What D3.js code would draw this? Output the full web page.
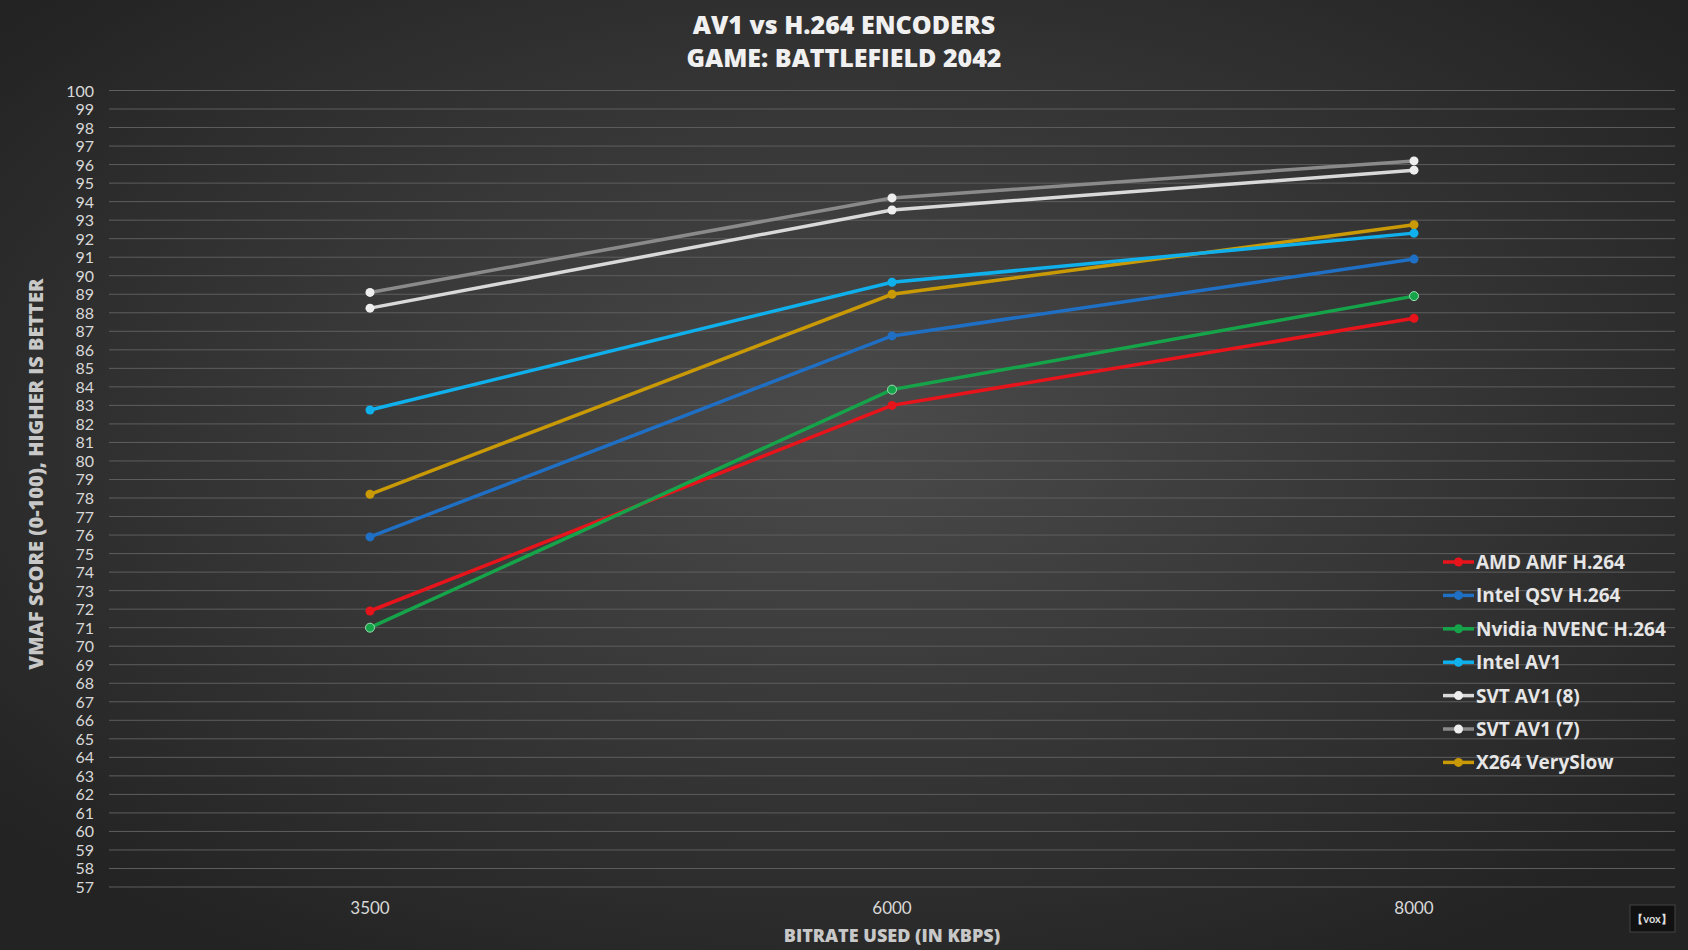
<!DOCTYPE html><html><head><meta charset="utf-8"><script src="https://cdn.jsdelivr.net/npm/d3@7"></script>
<style>body{margin:0;background:#2a2a2a}svg{display:block}</style></head><body><svg id="c" width="1688" height="950"></svg>
<script>
const categories=["3500","6000","8000"];
const seriesNames=["AMD AMF H.264","Intel QSV H.264","Nvidia NVENC H.264","Intel AV1","SVT AV1 (8)","SVT AV1 (7)","X264 VerySlow"];
const colors=["#e8141b","#1f6fc4","#16a44a","#0fb0ec","#d9d9d9","#8a8a8a","#c99a06"];
const amd=[71.9,83.0,87.7];
const qsv=[75.9,86.75,90.9];
const nvenc=[71.0,83.85,88.9];
const intelAv1=[82.75,89.65,92.3];
const svt8=[88.25,93.55,95.7];
const svt7=[89.1,94.2,96.2];
const x264=[78.2,89.0,92.75];
const values=[amd,qsv,nvenc,intelAv1,svt8,svt7,x264];
const yTicks=d3.range(57,101);
const svg=d3.select("#c");
const defs=svg.append("defs");
const g=defs.append("radialGradient").attr("id","bg").attr("cx","50%").attr("cy","45%").attr("r","65%");
g.append("stop").attr("offset","0%").attr("stop-color","#4b4b4b");
g.append("stop").attr("offset","100%").attr("stop-color","#232323");
svg.append("rect").attr("width",1688).attr("height",950).attr("fill","url(#bg)");
const x=d3.scaleBand().domain(categories).range([109,1675]);
const y=d3.scaleLinear().domain([57,100]).range([887,90.5]);
const F="Lato, 'Open Sans', sans-serif";
const FB="'Open Sans', sans-serif";
const dot=s=>(s==4||s==5)?"#eeeeee":colors[s];
svg.append("g").selectAll("line").data(yTicks).join("line").attr("x1",109).attr("x2",1675)
 .attr("y1",d=>y(d)).attr("y2",d=>y(d)).attr("stroke","#5e5e5e").attr("stroke-width",1);
svg.append("g").selectAll("text").data(yTicks).join("text").attr("x",94).attr("y",d=>y(d)+6)
 .attr("text-anchor","end").attr("fill","#d8d8d8").attr("font-family",F).attr("font-size",16).text(d=>d);
svg.append("g").selectAll("text").data(categories).join("text").attr("x",d=>x(d)+x.bandwidth()/2).attr("y",914)
 .attr("text-anchor","middle").attr("fill","#d8d8d8").attr("font-family",F).attr("font-size",17).text(d=>d);
const line=d3.line().x((d,i)=>x(categories[i])+x.bandwidth()/2).y(d=>y(d));
const order=[5,4,6,3,1,0,2];
order.forEach(s=>{
 svg.append("path").attr("d",line(values[s])).attr("fill","none").attr("stroke",colors[s]).attr("stroke-width",3.5);
 svg.append("g").selectAll("circle").data(values[s]).join("circle").attr("cx",(d,i)=>x(categories[i])+x.bandwidth()/2)
  .attr("cy",d=>y(d)).attr("r",4.5).attr("fill",dot(s)).attr("stroke",(s==2)?"#9be0b0":"none");
});
svg.append("text").attr("x",844).attr("y",34).attr("text-anchor","middle").attr("fill","#f0f0f0").attr("font-family",FB).attr("font-weight",800).attr("font-size",25).text("AV1 vs H.264 ENCODERS");
svg.append("text").attr("x",844).attr("y",67).attr("text-anchor","middle").attr("fill","#f0f0f0").attr("font-family",FB).attr("font-weight",800).attr("font-size",25).text("GAME: BATTLEFIELD 2042");
svg.append("text").attr("x",892).attr("y",942).attr("text-anchor","middle").attr("fill","#c8c8c8").attr("font-family",FB).attr("font-weight",800).attr("font-size",18).text("BITRATE USED (IN KBPS)");
svg.append("text").attr("transform","translate(43,474) rotate(-90)").attr("text-anchor","middle").attr("fill","#c8c8c8").attr("font-family",FB).attr("font-weight",800).attr("font-size",20).text("VMAF SCORE (0-100), HIGHER IS BETTER");
const lg=svg.append("g").selectAll("g").data(seriesNames).join("g").attr("transform",(d,i)=>`translate(1443,${562+i*33.4})`);
lg.append("line").attr("x1",0).attr("x2",31).attr("stroke",(d,i)=>colors[i]).attr("stroke-width",3.5);
lg.append("circle").attr("cx",15.5).attr("r",4.5).attr("fill",(d,i)=>dot(i));
lg.append("text").attr("x",33).attr("y",7).attr("fill","#e6e6e6").attr("font-family",FB).attr("font-weight",700).attr("font-size",19).text(d=>d);
const lo=svg.append("g").attr("transform","translate(1630,905)");
lo.append("rect").attr("width",45).attr("height",27).attr("fill","#111").attr("stroke","#444");
lo.append("text").attr("x",22).attr("y",18).attr("text-anchor","middle").attr("fill","#ddd").attr("font-family",F).attr("font-size",11).attr("font-weight",700).text("【vox】");
</script></body></html>
